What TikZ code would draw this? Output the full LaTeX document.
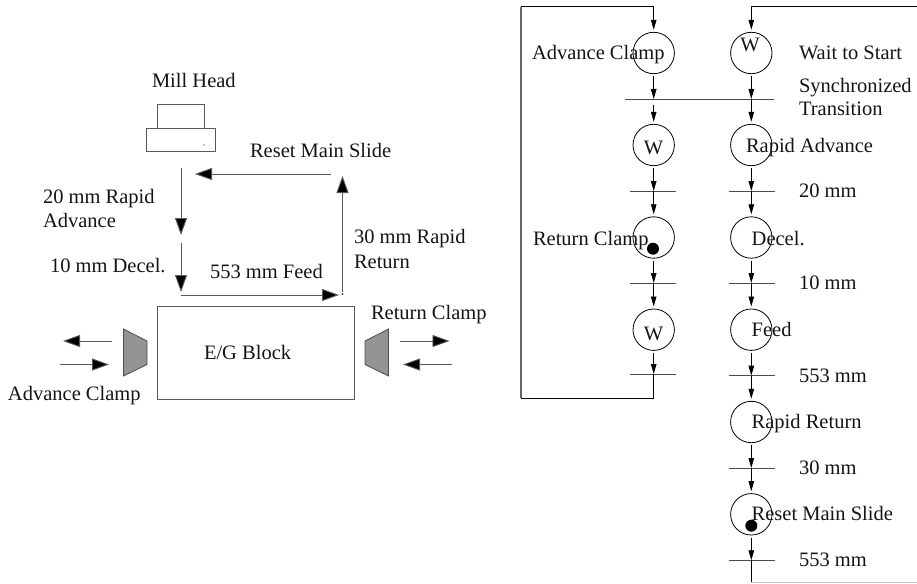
\documentclass[tikz,border=0pt]{standalone}
\usepackage{fontspec}
\setmainfont{Liberation Serif}
\usetikzlibrary{arrows.meta}
\tikzset{
  x=1pt,y=-1pt,
  every picture/.style={line width=0.9pt},
  txt/.style={anchor=base west,inner sep=0pt,outer sep=0pt,font=\fontsize{20.5}{24}\selectfont,text=black!92},
  ctxt/.style={txt,anchor=base},
  place/.style={circle,draw,minimum size=41.4pt,inner sep=0pt,outer sep=2.5pt,line width=0.8pt},
  token/.style={circle,fill=black,minimum size=12pt,inner sep=0pt},
  bigarr/.style={draw=black!65,line width=0.9pt,-{Triangle[length=17pt,width=12pt,fill=black]}},
  arr/.style={line width=0.8pt,-{Triangle[length=10pt,width=5.5pt]}},
  bar/.style={draw=black!70,line width=0.9pt},
  box/.style={draw=black!65,line width=0.9pt},
  jaw/.style={draw=black!70,fill=black!42,line width=0.8pt},
  frameline/.style={line width=0.8pt},
}
\begin{document}
\begin{tikzpicture}
\useasboundingbox (0,0) rectangle (917,583);
% --- left: machine
\draw[box] (157.5,104.5) rectangle (204,128);
\draw[box] (146,128) rectangle (215,151);
\fill (204,145) circle (0.6);
\draw[box] (157.5,306.5) rectangle (354,399);
\node[txt] at (204,359) {E/G Block};
\draw[jaw] (123.5,329) -- (147,341) -- (147,364.5) -- (123.5,376) -- cycle;
\draw[jaw] (388.5,329) -- (365,341) -- (365,364.5) -- (388.5,376) -- cycle;

\coordinate (a1) at (181,168);  \coordinate (a2) at (181,235);
\coordinate (b1) at (181,243);  \coordinate (b2) at (181,292);
\coordinate (c1) at (181,295);  \coordinate (c2) at (339,295);
\coordinate (d1) at (342.5,292);\coordinate (d2) at (342.5,176);
\coordinate (e1) at (331,174);  \coordinate (e2) at (195,174);
\draw[bigarr] (a1) -- (a2);
\draw[bigarr] (b1) -- (b2);
\draw[bigarr] (c1) -- (c2);
\draw[bigarr] (d1) -- (d2);
\draw[bigarr] (e1) -- (e2);
\fill (342.5,294) circle (0.8);

\coordinate (f1) at (112,341);  \coordinate (f2) at (63,341);
\coordinate (g1) at (60,364.5); \coordinate (g2) at (109,364.5);
\coordinate (h1) at (400,341);  \coordinate (h2) at (449.5,341);
\coordinate (i1) at (452,364.5);\coordinate (i2) at (403,364.5);
\draw[bigarr] (f1) -- (f2);
\draw[bigarr] (g1) -- (g2);
\draw[bigarr] (h1) -- (h2);
\draw[bigarr] (i1) -- (i2);

\node[txt] at (152,88) {Mill Head};
\node[txt] at (250,157) {Reset Main Slide};
\node[txt] at (43,203) {20 mm Rapid};
\node[txt] at (43,227) {Advance};
\node[txt] at (50,272) {10 mm Decel.};
\node[txt] at (210,278) {553 mm Feed};
\node[txt] at (354,243) {30 mm Rapid};
\node[txt] at (354,268) {Return};
\node[txt] at (371,319) {Return Clamp};
\node[txt] at (8,400) {Advance Clamp};

% --- right: net places
\node[place] (L1) at (653.7,53) {};
\node[place] (L2) at (653.7,145) {};
\node[place] (L3) at (653.7,237.5) {};
\node[place] (L4) at (653.7,329.7) {};
\node[place] (R1) at (751.3,53) {};
\node[place] (R2) at (751.3,145) {};
\node[place] (R3) at (751.3,237.5) {};
\node[place] (R4) at (751.3,329.7) {};
\node[place] (R5) at (751.3,422) {};
\node[place] (R6) at (751.3,514.3) {};
\node[token] at (653,248.7) {};
\node[token] at (751.3,525.7) {};

% transitions
\coordinate (Ts) at (653.7,99);
\coordinate (Ts2) at (653.7,105);
\coordinate (Tr) at (751.3,99);
\coordinate (TL2) at (653.7,191);
\coordinate (TL3) at (653.7,283);
\coordinate (TL4) at (653.7,374);
\coordinate (TR2) at (751.3,191);
\coordinate (TR3) at (751.3,283);
\coordinate (TR4) at (751.3,375.7);
\coordinate (TR5) at (751.3,468);
\coordinate (TR6) at (751.3,560.3);
\draw[bar] (625,99) -- (774.3,99);
\foreach \n/\y in {TL2/191,TL3/283,TL4/374} \draw[bar] (630,\y) -- (676,\y);
\foreach \n/\y in {TR2/191,TR3/283,TR4/375.7,TR5/468,TR6/560.3} \draw[bar] (728.5,\y) -- (774.5,\y);

% connectors
\coordinate (Ltop) at (653.7,6.7);
\coordinate (Lcor) at (521,6.7);
\coordinate (Lbot) at (521,398);
\coordinate (Lend) at (653.7,398);
\coordinate (Rtop) at (751.3,6.7);
\coordinate (Redge) at (917,6.7);
\coordinate (Rbot) at (751.3,582);
\coordinate (Redge2) at (917,582);

\draw[arr] (Ltop) -- (L1);
\draw[arr] (L1) -- (Ts);
\draw[arr] (Ts2) -- (L2);
\draw[arr] (L2) -- (TL2);
\draw[arr] (TL2) -- (L3);
\draw[arr] (L3) -- (TL3);
\draw[arr] (TL3) -- (L4);
\draw[arr] (L4) -- (TL4);
\draw[frameline] (TL4) -- (Lend) -- (Lbot);
\draw[draw=black!60,line width=1.1pt] (Lbot) -- (Lcor);
\draw[frameline] (Lcor) -- (Ltop);

\draw[frameline] (Redge) -- (Rtop);
\draw[arr] (Rtop) -- (R1);
\draw[arr] (R1) -- (Tr);
\draw[arr] (Tr) -- (R2);
\draw[arr] (R2) -- (TR2);
\draw[arr] (TR2) -- (R3);
\draw[arr] (R3) -- (TR3);
\draw[arr] (TR3) -- (R4);
\draw[arr] (R4) -- (TR4);
\draw[arr] (TR4) -- (R5);
\draw[arr] (R5) -- (TR5);
\draw[arr] (TR5) -- (R6);
\draw[arr] (R6) -- (TR6);
\draw[frameline] (TR6) -- (Rbot);
\draw[draw=black!25,line width=0.6pt] (Rbot) -- (Redge2);

% labels
\node[txt] at (532,60) {Advance Clamp};
\node[ctxt] at (750,52) {W};
\node[txt] at (799,60) {Wait to Start};
\node[txt] at (799,92.7) {Synchronized};
\node[txt] at (799,116) {Transition};
\node[ctxt] at (653.5,154) {W};
\node[txt] at (746,152) {Rapid Advance};
\node[txt] at (799,197) {20 mm};
\node[txt] at (533,245) {Return Clamp};
\node[txt] at (751.7,245) {Decel.};
\node[txt] at (799,289) {10 mm};
\node[ctxt] at (653.5,340.7) {W};
\node[txt] at (751.7,336) {Feed};
\node[txt] at (799,382) {553 mm};
\node[txt] at (751.7,428) {Rapid Return};
\node[txt] at (799,474) {30 mm};
\node[txt] at (751.7,520) {Reset Main Slide};
\node[txt] at (799,566) {553 mm};
\end{tikzpicture}
\end{document}
